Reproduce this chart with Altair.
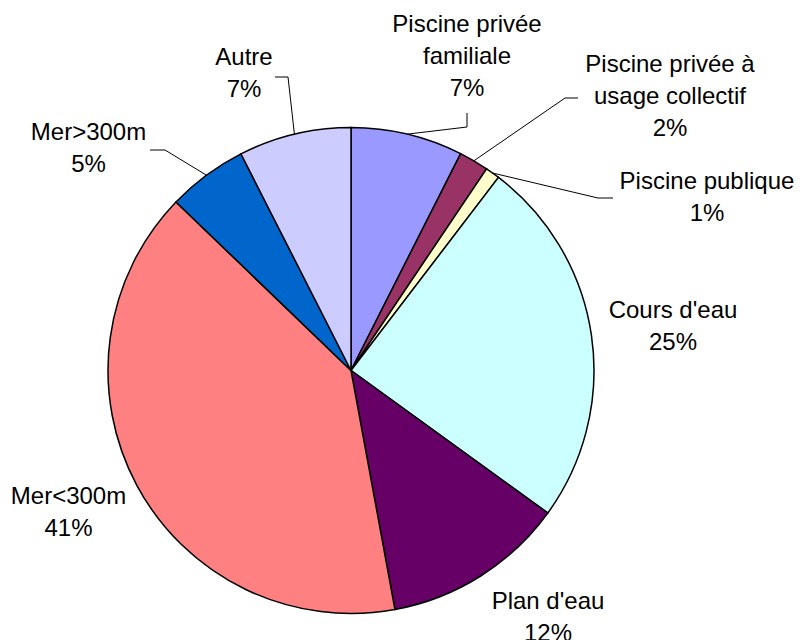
import math
import altair as alt
import pandas as pd

# ---- data ----
CATEGORIES = [
    "Piscine privée familiale",
    "Piscine privée à usage collectif",
    "Piscine publique",
    "Cours d'eau",
    "Plan d'eau",
    "Mer<300m",
    "Mer>300m",
    "Autre",
]
VALUES = [7.45, 1.97, 0.96, 24.59, 12.13, 40.09, 5.32, 7.48]
PCT_LABELS = ["7%", "2%", "1%", "25%", "12%", "41%", "5%", "7%"]
LABEL_LINES = [
    "Piscine privée\nfamiliale",
    "Piscine privée à\nusage collectif",
    "Piscine publique",
    "Cours d'eau",
    "Plan d'eau",
    "Mer<300m",
    "Mer>300m",
    "Autre",
]
COLORS = ["#9999FF", "#993366", "#FFFFCC", "#CCFFFF", "#660066",
          "#FF8080", "#0066CC", "#CCCCFF"]

# ---- layout (annotation placement, chart pixel coords) ----
CX, CY, R = 343, 362.5, 243
LABEL_POS = {  # label centre x, first-line centre y
    0: (459, 17), 1: (662, 57), 2: (699, 174), 3: (665, 303),
    4: (540, 594), 5: (60.5, 489), 6: (80.5, 125), 7: (236, 50),
}
LEADER_ELBOWS = {  # (start, elbow) of leader lines; last point on slice edge
    0: ((459, 105), (459, 119)),
    1: ((570, 90), (557, 90)),
    2: ((605, 190), (590, 190)),
    6: ((142, 142), (157, 142)),
    7: ((267, 69), (280, 69)),
}

df = pd.DataFrame({
    "idx": list(range(len(CATEGORIES))),
    "cat": CATEGORIES,
    "value": VALUES,
})

total = sum(VALUES)
cum = 0.0
rows_lbl, rows_seg = [], []
for i, v in enumerate(VALUES):
    mid = (cum + v / 2) / total * 2 * math.pi
    cum += v
    ex, ey = CX + R * math.sin(mid), CY - R * math.cos(mid)
    lx, ly = LABEL_POS[i]
    rows_lbl.append({"cat": CATEGORIES[i], "text": LABEL_LINES[i] + "\n" + PCT_LABELS[i],
                     "x": lx, "y": ly})
    if i in LEADER_ELBOWS:
        (x1, y1), (x2, y2) = LEADER_ELBOWS[i]
        rows_seg.append({"x": x1, "y": y1, "x2": x2, "y2": y2})
        rows_seg.append({"x": x2, "y": y2, "x2": ex, "y2": ey})

lbl = pd.DataFrame(rows_lbl)
seg = pd.DataFrame(rows_seg)

pie = alt.Chart(df).mark_arc(outerRadius=R, stroke="black", strokeWidth=1.5).encode(
    theta=alt.Theta("value:Q", stack=True),
    order=alt.Order("idx:Q"),
    color=alt.Color("cat:N", scale=alt.Scale(domain=CATEGORIES, range=COLORS), legend=None),
    x=alt.value(CX),
    y=alt.value(CY),
)

leaders = alt.Chart(seg).mark_rule(color="black", strokeWidth=1).encode(
    x=alt.X("x:Q", scale=None), y=alt.Y("y:Q", scale=None),
    x2="x2:Q", y2="y2:Q",
)

labels = alt.Chart(lbl).mark_text(
    font="Liberation Sans", fontSize=24, lineBreak="\n", lineHeight=32,
    align="center", baseline="middle", color="black",
).encode(
    x=alt.X("x:Q", scale=None), y=alt.Y("y:Q", scale=None), text="text:N",
)

chart = alt.layer(pie, leaders, labels).properties(
    width=786, height=640, padding=0, autosize="none",
).configure_view(stroke=None)

chart.save("out.html", embed_options={"renderer": "svg", "actions": False})
